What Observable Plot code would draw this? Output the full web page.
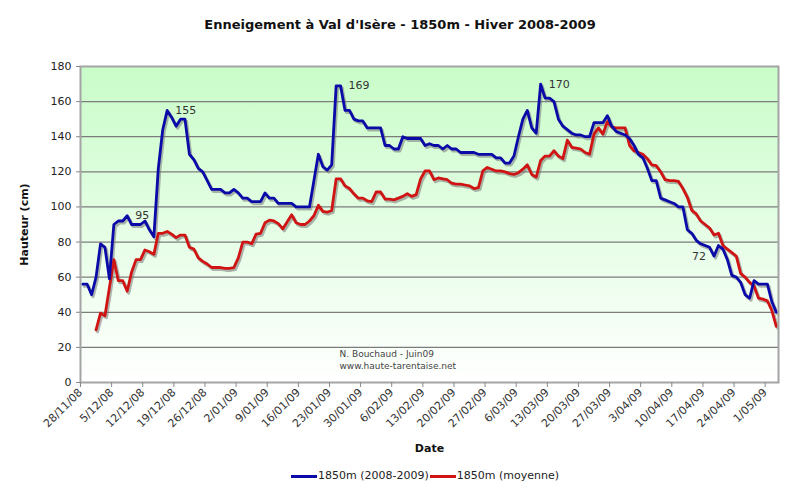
<!DOCTYPE html>
<html>
<head>
<meta charset="utf-8">
<script src="https://cdn.jsdelivr.net/npm/d3@7"></script>
<script src="https://cdn.jsdelivr.net/npm/@observablehq/plot@0.6"></script>
<style>
  body { margin: 0; background: #fff; font-family: "DejaVu Sans", Verdana, sans-serif; }
  #wrap { width: 800px; height: 491px; position: relative; overflow: hidden; }
  #title { height: 40px; box-sizing: border-box; padding-top: 17px; line-height: 16px; text-align: center; font-weight: bold; font-size: 13px; color: #111; }
  #chart svg { display: block; }
  #legend { position: absolute; left: 291px; top: 468px; display: flex; align-items: center; font-size: 11px; color: #222; line-height: 16px; }
  #legend .sw { display: inline-block; width: 26px; height: 3px; margin-right: 1px; }
  g[aria-label="x-axis label"] text, g[aria-label="y-axis label"] text { font-weight: bold; font-size: 11px; fill: #111; }
</style>
</head>
<body>
<div id="wrap">
  <div id="title">Enneigement à Val d'Isère - 1850m - Hiver 2008-2009</div>
  <div id="chart"></div>
  <div id="legend"></div>
</div>
<script>
// ---- Data (daily snow depth, cm) ----
const seriesNames = ["1850m (2008-2009)", "1850m (moyenne)"];
const seriesColors = ["#0a0aa8", "#d01414"];
const blueStart = "28/11/08";
const blueValues = [
  56,56,50,60,79,77,59,90,92,92,
  95,90,90,90,92,87,83,122,144,155,
  151,146,150,150,130,127,122,120,115,110,
  110,110,108,108,110,108,105,105,103,103,
  103,108,105,105,102,102,102,102,100,100,
  100,100,115,130,123,121,124,169,169,155,
  155,150,149,149,145,145,145,145,135,135,
  133,133,140,139,139,139,139,135,136,135,
  135,133,135,133,133,131,131,131,131,130,
  130,130,130,128,128,125,125,129,140,150,
  155,145,142,170,162,162,160,150,146,144,
  142,141,141,140,140,148,148,148,152,146,
  143,142,141,139,135,130,128,122,115,115,
  105,104,103,102,100,100,87,85,81,79,
  78,77,72,78,76,70,61,60,57,50,
  48,58,56,56,56,46,40
];
const redStart = "1/12/08";
const redValues = [
  30,39.5,38,54,70,58,58,52,63,70,
  70,75.5,74.5,73,85,85,86,84.5,82.5,84,
  84,77,76,71,69,67.5,65.5,65.5,65.5,65,
  65,65.5,71,80,80,79,84.5,85,91,92.5,
  92,90.5,87.5,91.5,95.5,91,90,90,92,95,
  101,97.5,97,98,116,116,112,110.5,107.5,105,
  105,103.5,103,108.5,108.5,104.5,104.5,104,105,106,
  107.5,106,107,116,120.5,120.5,115.5,116.5,116,115.5,
  113.5,113,113,112.5,112,110.5,111,120.5,122.5,121.5,
  120.5,120.5,120,119,118.5,119.5,121.5,124,118.5,117,
  126.5,129,129,132,129,127.5,138,134,133.5,133,
  131,130,141.5,145,141.5,148.5,145.5,145,145,145,
  135,132,131,130,127.5,124,123.5,120,115.5,115,
  115,114.5,110.5,105.5,98,96,92,90,88,84,
  85,78,76,74,72,62,60,57,55,48,
  47.5,46.5,41,32
];
const xTickLabels = ["28/11/08","5/12/08","12/12/08","19/12/08","26/12/08","2/01/09","9/01/09","16/01/09","23/01/09","30/01/09","6/02/09","13/02/09","20/02/09","27/02/09","6/03/09","13/03/09","20/03/09","27/03/09","3/04/09","10/04/09","17/04/09","24/04/09","1/05/09"];
const xDomainLabels = ["28/11/08", "4/05/09"];
const yTicks = [0,20,40,60,80,100,120,140,160,180];
const labelRightDates = ["8/12/08","17/12/08","25/01/09","11/03/09"];
const labelLeftDates = ["19/04/09"];
const noteLines = ["N. Bouchaud - Juin09", "www.haute-tarentaise.net"];

// ---- Build tables ----
const parse = d3.utcParse("%d/%m/%y");
const HALF = 12 * 3600 * 1000;
function build(startLabel, values, series) {
  const s = parse(startLabel);
  return values.map((v, i) => ({series, date: new Date(d3.utcDay.offset(s, i).getTime() + HALF), v}));
}
const blue = build(blueStart, blueValues, seriesNames[0]);
const red = build(redStart, redValues, seriesNames[1]);
const tickDates = xTickLabels.map(parse);
const tickMap = new Map(tickDates.map((d, i) => [+d, xTickLabels[i]]));
const findBlue = lbl => blue.find(r => +d3.utcDay.floor(r.date) === +parse(lbl));
const labRight = labelRightDates.map(findBlue);
const labLeft = labelLeftDates.map(findBlue);

const plot = Plot.plot({
  width: 800,
  height: 420,
  marginTop: 26,
  marginBottom: 78,
  marginLeft: 80,
  marginRight: 22,
  style: {fontFamily: "DejaVu Sans, Verdana, sans-serif", fontSize: "11px", color: "#222", background: "transparent"},
  x: {type: "utc", domain: xDomainLabels.map(parse)},
  y: {domain: [0, 180]},
  marks: [
    Plot.frame({fill: "url(#bg)", stroke: "none"}),
    Plot.ruleY(yTicks.filter(t => t > 0 && t < 180), {stroke: "#7c7c7c", strokeWidth: 1.3}),
    Plot.line(red, {x: "date", y: "v", stroke: "#777", strokeWidth: 3, dx: 1.5, dy: 2, strokeOpacity: 0.55, strokeLinejoin: "round"}),
    Plot.line(blue, {x: "date", y: "v", stroke: "#777", strokeWidth: 3, dx: 1.5, dy: 2, strokeOpacity: 0.55, strokeLinejoin: "round"}),
    Plot.line(red, {x: "date", y: "v", stroke: seriesColors[1], strokeWidth: 2.8, strokeLinejoin: "round"}),
    Plot.line(blue, {x: "date", y: "v", stroke: seriesColors[0], strokeWidth: 2.8, strokeLinejoin: "round"}),
    Plot.text(labRight, {x: "date", y: "v", text: d => String(d.v), textAnchor: "start", dx: 8, fontSize: 11, fill: "#333"}),
    Plot.text(labLeft, {x: "date", y: "v", text: d => String(d.v), textAnchor: "end", dx: -8, fontSize: 11, fill: "#333"}),
    Plot.text([noteLines.join("\n")], {frameAnchor: "bottom-left", dx: 259, dy: -14, textAnchor: "start", lineAnchor: "bottom", lineHeight: 1.25, fontSize: 9, fill: "#444"}),
    Plot.frame({stroke: "#a4a4a4", strokeWidth: 2}),
    Plot.axisY({ticks: yTicks, tickSize: 4, tickPadding: 5, fontSize: 11, label: "Hauteur (cm)", labelAnchor: "center", labelArrow: "none", labelOffset: 60, stroke: "#888"}),
    Plot.axisX({ticks: tickDates, tickFormat: d => tickMap.get(+d), tickRotate: -45, tickSize: 5, tickPadding: 3, fontSize: 11, fill: "#333", label: "Date", labelAnchor: "center", labelArrow: "none", labelOffset: 69, stroke: "#888"})
  ]
});

const svgNS = "http://www.w3.org/2000/svg";
const defs = document.createElementNS(svgNS, "defs");
defs.innerHTML = '<linearGradient id="bg" x1="0" y1="0" x2="0" y2="1"><stop offset="0" stop-color="#c9fcc9"/><stop offset="1" stop-color="#ffffff"/></linearGradient>';
plot.insertBefore(defs, plot.firstChild);
document.getElementById("chart").appendChild(plot);

// legend
const leg = document.getElementById("legend");
seriesNames.forEach((n, i) => {
  const sw = document.createElement("span");
  sw.className = "sw";
  sw.style.background = seriesColors[i];
  const t = document.createElement("span");
  t.textContent = n;
  t.style.marginRight = "1px";
  leg.appendChild(sw);
  leg.appendChild(t);
});
</script>
</body>
</html>
